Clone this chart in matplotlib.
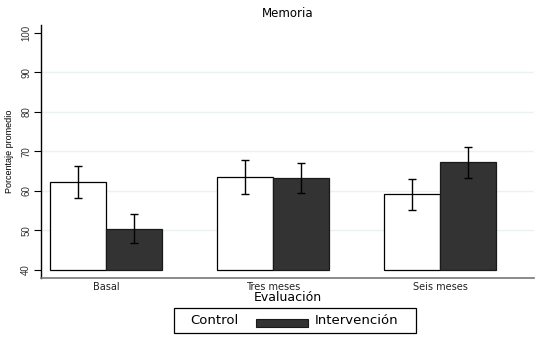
import numpy as np
import matplotlib.pyplot as plt
from matplotlib.patches import Rectangle

plt.rcParams["font.family"] = ["DejaVu Sans"]
NARROW = ["Liberation Sans", "DejaVu Sans"]

# Mean memory score by evaluation time, with error bar limits
evaluaciones = ["Basal", "Tres meses", "Seis meses"]
control = [62.2, 63.6, 59.2]
control_lo = [58.1, 59.2, 55.3]
control_hi = [66.3, 67.8, 63.1]
intervencion = [50.4, 63.2, 67.3]
intervencion_lo = [46.8, 59.4, 63.4]
intervencion_hi = [54.1, 67.2, 71.1]
y_ticks = [40, 50, 60, 70, 80, 90, 100]

W, H = 542, 344
fig = plt.figure(figsize=(W / 100, H / 100), dpi=100)
ax = fig.add_axes([41 / W, (H - 277.5) / H, (534 - 41) / W, (277.5 - 25) / H])

x = np.arange(len(evaluaciones))
width = 0.335
base = 40

ctrl = np.array(control)
intv = np.array(intervencion)
ax.bar(x - width / 2, ctrl - base, width, bottom=base, color="white",
       edgecolor="black", linewidth=0.9, zorder=2)
ax.bar(x + width / 2, intv - base, width, bottom=base, color="#333333",
       edgecolor="#1a1a1a", linewidth=0.9, zorder=2)

err_c = [ctrl - np.array(control_lo), np.array(control_hi) - ctrl]
err_i = [intv - np.array(intervencion_lo), np.array(intervencion_hi) - intv]
ax.errorbar(x - width / 2, ctrl, yerr=err_c, fmt="none", ecolor="black",
            elinewidth=1.0, capsize=3, capthick=1.0, zorder=3)
ax.errorbar(x + width / 2, intv, yerr=err_i, fmt="none", ecolor="black",
            elinewidth=1.0, capsize=3, capthick=1.0, zorder=3)

ax.set_xlim(-0.389, 2.563)
ax.set_ylim(38.1, 102.0)
ax.set_yticks(y_ticks)
ax.set_yticklabels([str(t) for t in y_ticks], rotation=90, va="center",
                   fontsize=7, color="#333333", family=NARROW)
for t in y_ticks[1:-1]:
    ax.axhline(t, color="#eaf2f3", linewidth=1.0, zorder=0)
ax.tick_params(axis="y", length=5, width=0.8, pad=2)
ax.set_xticks(x)
ax.set_xticklabels(evaluaciones, fontsize=7, color="#222222")
ax.tick_params(axis="x", length=0, pad=3)

for s in ["top", "right"]:
    ax.spines[s].set_visible(False)
ax.spines["left"].set_color("black")
ax.spines["left"].set_linewidth(1.0)
ax.spines["bottom"].set_color("#777777")
ax.spines["bottom"].set_linewidth(1.2)

ax.set_title("Memoria", fontsize=8.5, pad=6)
ax.set_ylabel("Porcentaje promedio", fontsize=6.5, labelpad=5, family=NARROW)
fig.text(287.5 / W, 1 - 297.5 / H, "Evaluación", ha="center", va="center",
         fontsize=9)

# Legend box drawn in figure pixels
def fx(px):
    return px / W

def fy(py):
    return 1 - py / H

fig.patches.append(Rectangle((fx(174), fy(333)), fx(242), 25 / H,
                             transform=fig.transFigure, facecolor="white",
                             edgecolor="black", linewidth=0.9))
fig.patches.append(Rectangle((fx(256), fy(327)), fx(52), 8 / H,
                             transform=fig.transFigure, facecolor="#333333",
                             edgecolor="#1a1a1a", linewidth=0.8))
fig.text(fx(190), fy(321), "Control", ha="left", va="center", fontsize=9.5)
fig.text(fx(315), fy(321), "Intervención", ha="left", va="center",
         fontsize=9.5)

fig.savefig("out.png", dpi=100)
